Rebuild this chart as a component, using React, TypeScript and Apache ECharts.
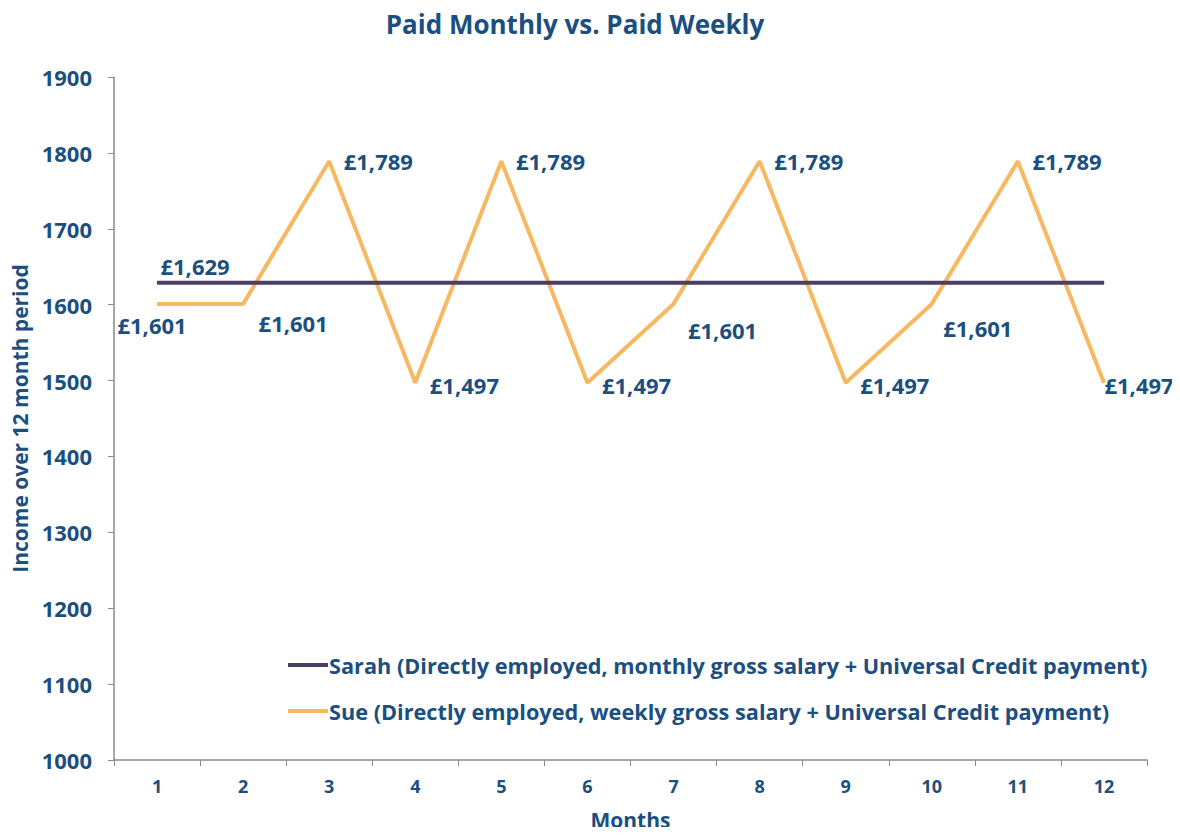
import React, { useEffect, useRef } from "react";
import * as echarts from "echarts";

const months = ["1", "2", "3", "4", "5", "6", "7", "8", "9", "10", "11", "12"];
const yTicks = [1000, 1100, 1200, 1300, 1400, 1500, 1600, 1700, 1800, 1900];
const sarahValues = [1629, 1629, 1629, 1629, 1629, 1629, 1629, 1629, 1629, 1629, 1629, 1629];
const sueValues = [1601, 1601, 1789, 1497, 1789, 1497, 1601, 1789, 1497, 1601, 1789, 1497];
const sarahName = "Sarah (Directly employed, monthly gross salary + Universal Credit payment)";
const sueName = "Sue (Directly employed, weekly gross salary + Universal Credit payment)";

const TEXT = "#1b4f80";
const FONT = "'Open Sans', sans-serif";

const fmt = (v: number) => "£" + v.toLocaleString("en-GB");

// label placement for each of Sue's points
const sueLabelPlacement = [
  { position: "bottom", offset: [-5, -1] },
  { position: "bottom", offset: [50, -3] },
  { position: "right", offset: [0, 0] },
  { position: "right", offset: [0, 2] },
  { position: "right", offset: [0, 0] },
  { position: "right", offset: [0, 2] },
  { position: "bottom", offset: [49, 4] },
  { position: "right", offset: [0, 0] },
  { position: "right", offset: [0, 2] },
  { position: "bottom", offset: [46, 2] },
  { position: "right", offset: [0, 0] },
  { position: "right", offset: [-14, 2] },
];

export default function App() {
  const ref = useRef<HTMLDivElement>(null);
  useEffect(() => {
    if (!ref.current) return;
    const chart = echarts.init(ref.current, null, { renderer: "svg" });
    const labelStyle = { color: TEXT, fontFamily: FONT, fontWeight: "bold", fontSize: 22 };
    chart.setOption({
      animation: false,
      backgroundColor: "#ffffff",
      title: {
        text: "Paid Monthly vs. Paid Weekly",
        left: 570,
        textAlign: "center",
        top: 6,
        textStyle: { color: TEXT, fontFamily: FONT, fontWeight: "bold", fontSize: 26 },
      },
      legend: {
        orient: "vertical",
        left: 283,
        top: 649,
        itemGap: 24,
        itemWidth: 40,
        itemHeight: 4,
        icon: "rect",
        textStyle: { color: TEXT, fontFamily: FONT, fontWeight: "bold", fontSize: 21.7, padding: [0, 0, 0, -4] },
        data: [sarahName, sueName],
      },
      grid: { left: 114, right: 33, top: 77, bottom: 73, containLabel: false },
      xAxis: {
        type: "category",
        data: months,
        boundaryGap: true,
        name: "Months",
        nameLocation: "middle",
        nameGap: 49,
        nameTextStyle: { color: TEXT, fontFamily: FONT, fontWeight: "bold", fontSize: 21 },
        axisLine: { lineStyle: { color: "#8a8a8a", width: 1.5 } },
        axisTick: { show: true, length: 6, lineStyle: { color: "#8a8a8a" } },
        axisLabel: { color: TEXT, fontFamily: FONT, fontWeight: "bold", fontSize: 18, margin: 17 },
      },
      yAxis: {
        type: "value",
        min: yTicks[0],
        max: yTicks[yTicks.length - 1],
        interval: yTicks[1] - yTicks[0],
        name: "Income over 12 month period",
        nameLocation: "middle",
        nameGap: 80,
        nameTextStyle: { color: TEXT, fontFamily: FONT, fontWeight: "bold", fontSize: 21 },
        splitLine: { show: false },
        axisLine: { show: true, lineStyle: { color: "#8a8a8a", width: 1.5 } },
        axisTick: { show: true, length: 6, lineStyle: { color: "#8a8a8a" } },
        axisLabel: {
          color: TEXT,
          fontFamily: FONT,
          fontWeight: "bold",
          fontSize: 22,
          margin: 22,
          formatter: (v: number) => String(v),
        },
      },
      series: [
        {
          name: sarahName,
          type: "line",
          data: sarahValues.map((v, i) =>
            i === 0
              ? {
                  value: v,
                  label: { show: true, position: "top", offset: [38, 0], distance: 5, formatter: () => fmt(v), ...labelStyle },
                }
              : v
          ),
          symbol: "circle",
          symbolSize: 1,
          showSymbol: true,
          showAllSymbol: true,
          lineStyle: { color: "#4a3f64", width: 4 },
          itemStyle: { color: "#4a3f64" },
          z: 3,
        },
        {
          name: sueName,
          type: "line",
          data: sueValues.map((v, i) => ({
            value: v,
            label: {
              show: true,
              position: sueLabelPlacement[i].position,
              offset: sueLabelPlacement[i].offset,
              distance: sueLabelPlacement[i].position === "bottom" ? 11 : 14,
              formatter: () => fmt(v),
              ...labelStyle,
            },
          })),
          symbol: "circle",
          symbolSize: 1,
          showSymbol: true,
          showAllSymbol: true,
          lineStyle: { color: "#f6b861", width: 4 },
          itemStyle: { color: "#f6b861" },
          z: 2,
        },
      ],
    });
    return () => chart.dispose();
  }, []);
  return <div ref={ref} style={{ width: 1180, height: 835, margin: -8 }} />;
}
